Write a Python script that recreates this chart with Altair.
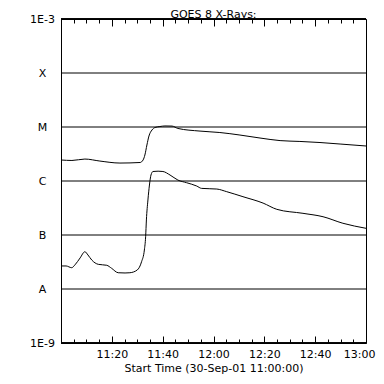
import altair as alt
import pandas as pd

# minutes after 11:00 UT, 30-Sep-01
long_t = [0, 4.3, 9.4, 15.3, 23.2, 31.1, 32.3, 33.0, 33.8, 34.6, 35.8, 37.0, 38.9,
          40.9, 43.7, 46.0, 54.7, 62.5, 70.4, 78.3, 86.2, 94.0, 101.9, 109.8, 120]
long_flux = [2.45e-6, 2.4e-6, 2.55e-6, 2.34e-6, 2.15e-6, 2.2e-6, 2.45e-6, 3.03e-6,
             4.64e-6, 6.8e-6, 8.8e-6, 9.8e-6, 1.02e-5, 1.045e-5, 1.04e-5, 9.4e-6,
             8.4e-6, 7.9e-6, 7.1e-6, 6.25e-6, 5.6e-6, 5.4e-6, 5.16e-6, 4.84e-6, 4.45e-6]

short_t = [0, 2, 4.2, 5.5, 7.5, 9.4, 10.6, 12.1, 14.7, 18.0, 19.9, 22.5, 25.2, 27.1,
           30.0, 31.7, 32.8, 33.3, 33.6, 34.2, 34.8, 35.4, 36.2, 38.2, 40.1, 42.9,
           46.0, 49.4, 53.4, 55.3, 61.3, 65.2, 71.6, 79.5, 84.9, 95.2, 103.1, 110.9, 120]
short_flux = [2.67e-8, 2.67e-8, 2.48e-8, 2.8e-8, 3.75e-8, 4.9e-8, 4.27e-8, 3.44e-8,
              2.86e-8, 2.75e-8, 2.42e-8, 2.0e-8, 1.98e-8, 2.0e-8, 2.25e-8, 3.2e-8,
              5.27e-8, 9.3e-8, 1.9e-7, 4.45e-7, 8.43e-7, 1.29e-6, 1.5e-6, 1.52e-6,
              1.5e-6, 1.29e-6, 1.04e-6, 9.3e-7, 8.07e-7, 7.3e-7, 7.1e-7, 6.34e-7,
              5.12e-7, 3.9e-7, 2.99e-7, 2.52e-7, 2.18e-7, 1.65e-7, 1.33e-7]

class_levels = [1e-8, 1e-7, 1e-6, 1e-5, 1e-4]
y_tick_values = [1e-9, 1e-8, 1e-7, 1e-6, 1e-5, 1e-4, 1e-3]
y_tick_labels = ["1E-9", "A", "B", "C", "M", "X", "1E-3"]
x_major = [20, 40, 60, 80, 100, 120]
x_minor = list(range(5, 120, 5))

FONT = "DejaVu Sans"

xscale = alt.Scale(domain=[0, 120], nice=False, zero=False)
yscale = alt.Scale(type="log", domain=[1e-9, 1e-3], nice=False)

label_arr = "[" + ",".join("'%s'" % s for s in y_tick_labels) + "]"
yaxis = alt.Axis(values=y_tick_values,
                 labelExpr=label_arr + "[round(log(datum.value)/LN10)+9]",
                 tickSize=0, ticks=False, labelPadding=19, labelAlign="center",
                 domain=False, grid=False, title=None, labelFontSize=11)

def tick_axis(orient, values, size):
    return alt.Axis(orient=orient, values=values, tickSize=size, offset=-size,
                    labels=False, domain=False, grid=False, title=None,
                    tickColor="black", tickWidth=1, minExtent=0, zindex=5)

axis_labels = alt.Axis(orient="bottom", values=x_major, ticks=False, tickSize=0,
                       labelPadding=5, domain=False, grid=False, labelFlush=False,
                       labelAlign=alt.condition("datum.value == 120", alt.value("right"), alt.value("center")),
                       labelOffset=alt.condition("datum.value == 120", alt.value(9), alt.value(0)),
                       labelExpr="(11 + floor(datum.value/60)) + ':' + (datum.value % 60 == 0 ? '00' : '' + (datum.value % 60))",
                       title="Start Time (30-Sep-01 11:00:00)", titlePadding=3,
                       titleFontWeight="normal", titleFontSize=11, labelFontSize=11)

long_df = pd.DataFrame({"t": long_t, "flux": long_flux})
short_df = pd.DataFrame({"t": short_t, "flux": short_flux})
levels_df = pd.DataFrame({"flux": class_levels})

upper = alt.Chart(long_df).mark_line(color="black", strokeWidth=1, interpolate="monotone").encode(
    x=alt.X("t:Q", scale=xscale, axis=axis_labels),
    y=alt.Y("flux:Q", scale=yscale, axis=yaxis),
)
lower = alt.Chart(short_df).mark_line(color="black", strokeWidth=1, interpolate="monotone").encode(
    x=alt.X("t:Q", scale=xscale, axis=tick_axis("bottom", x_minor, 4)),
    y=alt.Y("flux:Q", scale=yscale, axis=yaxis),
)
grid = alt.Chart(levels_df).mark_rule(color="black", strokeWidth=1).encode(
    x=alt.XDatum(0, type="quantitative", scale=xscale, axis=tick_axis("top", x_minor, 4)),
    x2=alt.X2Datum(120),
    y=alt.Y("flux:Q", scale=yscale, axis=yaxis),
)
top_border = alt.Chart(levels_df).mark_rule(color="black", strokeWidth=1).encode(
    x=alt.XDatum(0, type="quantitative", scale=xscale, axis=tick_axis("top", x_major, 7)),
    x2=alt.X2Datum(120),
    y=alt.YDatum(1e-3, type="quantitative", scale=yscale, axis=yaxis),
)
bottom_border = alt.Chart(levels_df).mark_rule(color="black", strokeWidth=1).encode(
    x=alt.XDatum(0, type="quantitative", scale=xscale, axis=tick_axis("bottom", x_major, 7)),
    x2=alt.X2Datum(120),
    y=alt.YDatum(1e-9, type="quantitative", scale=yscale, axis=yaxis),
)

chart = alt.layer(upper, lower, grid, top_border, bottom_border).resolve_axis(
    x="independent"
).properties(
    width=305,
    height=324,
    autosize=alt.AutoSizeParams(type="none"),
    padding={"left": 53, "top": 11, "right": 10, "bottom": 33},
    title=alt.TitleParams("GOES 8 X-Rays:", fontSize=11, fontWeight="normal",
                          font=FONT, color="black", offset=-7),
    background="white",
).configure_view(
    stroke="black", strokeWidth=1
).configure_axis(
    labelFont=FONT, titleFont=FONT, labelColor="black", titleColor="black",
    domainColor="black"
)

chart.save("out.html", embed_options={"renderer": "svg", "actions": False})
